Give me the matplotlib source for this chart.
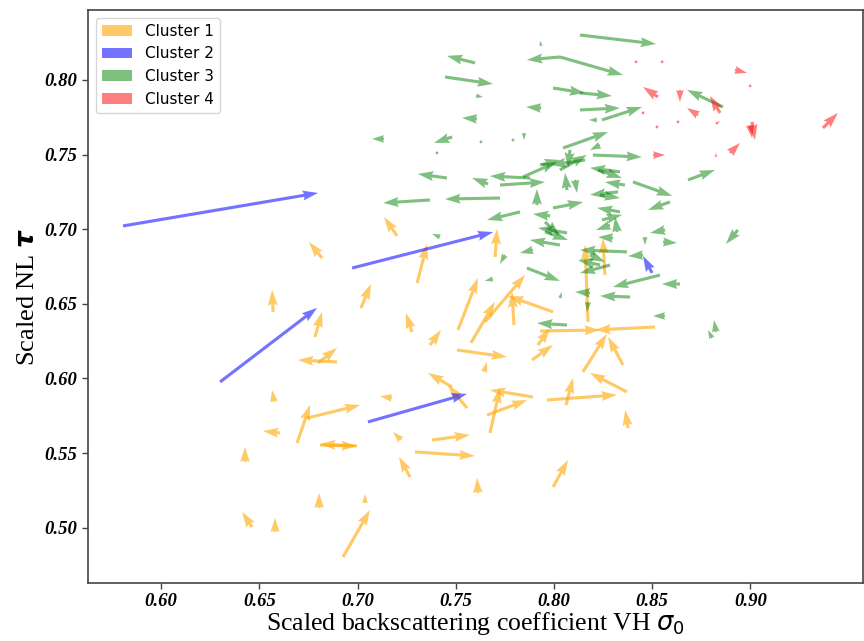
import matplotlib
matplotlib.use("Agg")
import matplotlib.pyplot as plt
from matplotlib.patches import Patch
import numpy as np

# Arrow tails (x, y) and displacement (u, v) per cluster, in data units
c1_x = [0.7201, 0.7303, 0.7700, 0.7511, 0.7577, 0.7649, 0.7995, 0.7796, 0.7277, 0.7369,
        0.7506, 0.7644, 0.7888, 0.7918, 0.7481, 0.7557, 0.7175, 0.7893, 0.7659, 0.7674,
        0.7964, 0.8061, 0.8371, 0.8377, 0.7221, 0.7379, 0.7292, 0.7267, 0.7995, 0.7613,
        0.6575, 0.6692, 0.6743, 0.6605, 0.6997, 0.6809, 0.6427, 0.6463, 0.6580, 0.6804,
        0.7038, 0.6926, 0.6819, 0.6570, 0.6783, 0.7017, 0.6895, 0.6799, 0.8173, 0.8259,
        0.8514, 0.7929, 0.8147, 0.8351]
c1_y = [0.6955, 0.6640, 0.6814, 0.6325, 0.6238, 0.6379, 0.6446, 0.6358, 0.6312, 0.6224,
        0.6191, 0.6044, 0.6124, 0.6224, 0.5943, 0.5802, 0.5869, 0.5876, 0.5755, 0.5635,
        0.5856, 0.5822, 0.5910, 0.5668, 0.5588, 0.5588, 0.5508, 0.5340, 0.5273, 0.5233,
        0.5843, 0.5568, 0.5735, 0.5635, 0.5548, 0.5554, 0.5441, 0.5005, 0.4972, 0.5132,
        0.5166, 0.4804, 0.6807, 0.6446, 0.6278, 0.6472, 0.6111, 0.6104, 0.6379, 0.6693,
        0.6345, 0.6318, 0.6044, 0.6090]
c1_u = [-0.0066, 0.0051, 0.0010, 0.0102, 0.0122, 0.0204, -0.0229, -0.0010, -0.0031, 0.0056,
        0.0255, 0.0015, 0.0107, 0.0061, -0.0122, -0.0097, -0.0061, -0.0219, 0.0204, 0.0051,
        0.0356, 0.0036, -0.0188, -0.0015, -0.0041, 0.0193, 0.0305, -0.0056, 0.0076, -0.0005,
        -0.0010, 0.0066, 0.0270, -0.0087, -0.0188, 0.0188, 0.0000, -0.0051, 0.0000, 0.0000,
        0.0000, 0.0137, -0.0066, -0.0005, 0.0036, 0.0051, -0.0199, 0.0097, -0.0015, -0.0010,
        -0.0305, 0.0305, 0.0122, -0.0076]
c1_v = [0.0127, 0.0261, 0.0188, 0.0348, 0.0275, 0.0315, 0.0107, 0.0221, 0.0127, 0.0101,
        -0.0047, 0.0067, 0.0101, 0.0114, 0.0094, 0.0154, 0.0013, 0.0047, 0.0101, 0.0302,
        0.0034, 0.0181, 0.0127, 0.0121, 0.0054, 0.0034, -0.0027, 0.0134, 0.0181, 0.0101,
        0.0080, 0.0255, 0.0087, 0.0013, 0.0013, -0.0007, 0.0101, 0.0101, 0.0094, 0.0101,
        0.0060, 0.0315, 0.0107, 0.0147, 0.0168, 0.0161, 0.0013, 0.0101, 0.0516, 0.0248,
        -0.0020, 0.0007, 0.0255, 0.0188]

c2_x = [0.5806, 0.6972, 0.6300, 0.7053, 0.8499]
c2_y = [0.7022, 0.6740, 0.5977, 0.5709, 0.6707]
c2_u = [0.0993, 0.0718, 0.0494, 0.0504, -0.0046]
c2_v = [0.0221, 0.0241, 0.0496, 0.0188, 0.0114]

c3_x = [0.8132, 0.8030, 0.8030, 0.7934, 0.7598, 0.7445, 0.7603, 0.7934, 0.7608, 0.7135,
        0.7481, 0.7847, 0.7995, 0.8132, 0.8132, 0.8244, 0.8219, 0.8046, 0.8198, 0.8860,
        0.8682, 0.8402, 0.7455, 0.7664, 0.7878, 0.7725, 0.7842, 0.8066, 0.7369, 0.7725,
        0.7913, 0.7827, 0.7980, 0.8158, 0.8030, 0.8081, 0.8224, 0.8336, 0.8234, 0.8326,
        0.7995, 0.8336, 0.8590, 0.8321, 0.8565, 0.8555, 0.8300, 0.8463, 0.8371, 0.8453,
        0.8285, 0.8539, 0.8641, 0.8387, 0.8183, 0.8173, 0.8565, 0.8824, 0.8936, 0.8804,
        0.8066, 0.8030, 0.7954, 0.7750, 0.7893, 0.7689, 0.7862, 0.8030, 0.8066, 0.7420,
        0.8234, 0.8183, 0.7954, 0.8107, 0.8285, 0.8244, 0.7929, 0.8234, 0.8361, 0.7791,
        0.7628, 0.7404]
c3_y = [0.8301, 0.8154, 0.8154, 0.8228, 0.8114, 0.8020, 0.7893, 0.7812, 0.7739, 0.7605,
        0.7618, 0.7645, 0.7946, 0.7913, 0.7799, 0.7732, 0.7732, 0.7544, 0.7497, 0.7819,
        0.7330, 0.7317, 0.7343, 0.7303, 0.7343, 0.7296, 0.7350, 0.7263, 0.7196, 0.7209,
        0.7162, 0.7116, 0.7089, 0.7464, 0.7397, 0.7531, 0.7397, 0.7384, 0.7229, 0.7250,
        0.7142, 0.7116, 0.7183, 0.6982, 0.6995, 0.6915, 0.6941, 0.6948, 0.6848, 0.6827,
        0.6760, 0.6693, 0.6633, 0.6546, 0.6573, 0.6513, 0.6419, 0.6312, 0.6995, 0.6271,
        0.6975, 0.6894, 0.7049, 0.6828, 0.6861, 0.6667, 0.6740, 0.6539, 0.6358, 0.6948,
        0.6760, 0.6828, 0.6982, 0.7330, 0.7028, 0.7062, 0.7430, 0.7564, 0.7296, 0.7598,
        0.7585, 0.7511]
c3_u = [0.0387, -0.0168, 0.0321, -0.0005, -0.0143, 0.0244, 0.0036, -0.0076, -0.0076, -0.0061,
        -0.0092, 0.0000, 0.0163, 0.0163, 0.0204, 0.0204, -0.0041, 0.0229, 0.0249, -0.0183,
        0.0137, 0.0199, -0.0148, -0.0081, -0.0204, 0.0229, 0.0173, -0.0010, -0.0239, -0.0280,
        0.0000, -0.0168, -0.0087, -0.0178, 0.0137, -0.0010, 0.0122, -0.0153, 0.0102, -0.0143,
        0.0153, -0.0117, -0.0112, -0.0010, -0.0076, 0.0071, -0.0076, 0.0000, -0.0239, -0.0076,
        -0.0153, -0.0239, -0.0092, -0.0153, -0.0076, -0.0005, -0.0061, -0.0010, -0.0061, -0.0020,
        -0.0148, -0.0153, 0.0076, -0.0025, -0.0066, -0.0041, 0.0168, 0.0010, -0.0153, -0.0041,
        -0.0112, 0.0076, 0.0117, 0.0010, -0.0071, 0.0102, 0.0102, -0.0051, -0.0102, 0.0010,
        0.0005, 0.0005]
c3_v = [-0.0060, -0.0020, -0.0121, 0.0034, 0.0047, -0.0047, -0.0007, 0.0007, 0.0007, 0.0000,
        -0.0040, -0.0047, -0.0034, -0.0020, 0.0013, 0.0087, 0.0000, 0.0107, -0.0013, 0.0114,
        0.0067, -0.0094, 0.0027, 0.0040, 0.0013, 0.0020, 0.0101, 0.0114, -0.0020, -0.0007,
        0.0107, -0.0054, 0.0013, -0.0034, 0.0101, -0.0121, -0.0054, 0.0027, -0.0020, -0.0020,
        0.0040, 0.0027, -0.0054, 0.0101, -0.0020, -0.0007, 0.0007, -0.0054, 0.0013, -0.0007,
        -0.0054, -0.0080, 0.0000, 0.0007, 0.0007, -0.0067, 0.0000, 0.0080, -0.0094, 0.0054,
        0.0034, 0.0034, -0.0094, -0.0060, -0.0020, -0.0013, -0.0087, 0.0040, 0.0013, 0.0020,
        0.0034, -0.0047, -0.0054, -0.0087, -0.0034, 0.0034, 0.0034, -0.0034, 0.0020, 0.0000,
        -0.0007, -0.0007]

c4_x = [0.8417, 0.8550, 0.8921, 0.8998, 0.8529, 0.8641, 0.8733, 0.8845, 0.8824, 0.8453,
        0.8524, 0.8631, 0.9008, 0.8998, 0.8896, 0.8504, 0.8824, 0.9369]
c4_y = [0.8121, 0.8121, 0.8067, 0.7960, 0.7886, 0.7933, 0.7765, 0.7779, 0.7705, 0.7779,
        0.7685, 0.7719, 0.7719, 0.7698, 0.7511, 0.7497, 0.7484, 0.7678]
c4_u = [-0.0010, 0.0005, 0.0061, -0.0005, -0.0076, 0.0000, -0.0056, -0.0051, 0.0020, 0.0005,
        0.0005, 0.0005, 0.0015, 0.0010, 0.0051, 0.0061, 0.0000, 0.0076]
c4_v = [0.0013, 0.0000, -0.0020, 0.0013, 0.0067, -0.0080, 0.0047, 0.0114, 0.0020, 0.0000,
        0.0000, 0.0000, -0.0121, -0.0087, 0.0067, 0.0000, 0.0027, 0.0101]

labels = ["Cluster 1", "Cluster 2", "Cluster 3", "Cluster 4"]
colors = ["orange", "blue", "green", "red"]
alphas = [0.6, 0.55, 0.5, 0.5]

x_ticks = [0.60, 0.65, 0.70, 0.75, 0.80, 0.85, 0.90]
y_ticks = [0.50, 0.55, 0.60, 0.65, 0.70, 0.75, 0.80]

fig = plt.figure(figsize=(8.64, 6.41), dpi=100)
ax = fig.add_axes([0.1019, 0.0905, 0.897, 0.894])

clusters = [(c1_x, c1_y, c1_u, c1_v), (c2_x, c2_y, c2_u, c2_v),
            (c3_x, c3_y, c3_u, c3_v), (c4_x, c4_y, c4_u, c4_v)]
for (x, y, u, v), col, a in zip(clusters, colors, alphas):
    ax.quiver(np.array(x), np.array(y), np.array(u), np.array(v),
              angles="xy", scale_units="xy", scale=1,
              color=col, alpha=a, width=0.004, headwidth=3.2, headlength=5)

ax.set_xlim(0.5628, 0.9573)
ax.set_ylim(0.4630, 0.8469)
ax.set_xticks(x_ticks)
ax.set_yticks(y_ticks)

tick_font = dict(family="Liberation Serif", weight="bold", style="italic", size=13.5)
ax.set_xticklabels([f"{t:.2f}" for t in x_ticks], fontdict=tick_font)
ax.set_yticklabels([f"{t:.2f}" for t in y_ticks], fontdict=tick_font)
ax.tick_params(length=4, width=1, color="#444444")

for s in ax.spines.values():
    s.set_color("#444444")
    s.set_linewidth(1.2)

ax.set_xlabel(r"Scaled backscattering coefficient VH $\sigma_0$",
              family="Liberation Serif", size=18.5, labelpad=0)
ax.set_ylabel(r"Scaled NL $\boldsymbol{\tau}$",
              family="Liberation Serif", size=19, labelpad=4)

handles = [Patch(facecolor=c, alpha=a, edgecolor="none", label=l)
           for c, a, l in zip(colors, alphas, labels)]
ax.legend(handles=handles, loc="upper left", fontsize=11)

fig.savefig("out.png", dpi=100)
